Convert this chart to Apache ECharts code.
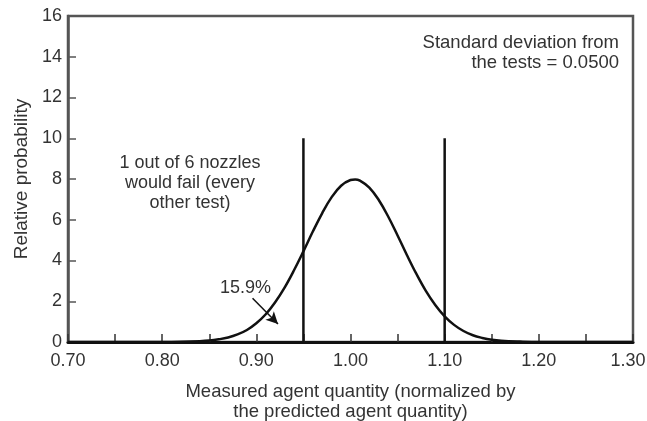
<!DOCTYPE html>
<html>
<head>
<meta charset="utf-8">
<script src="https://cdn.jsdelivr.net/npm/echarts@6/dist/echarts.min.js"></script>
<style>
  html, body { margin: 0; padding: 0; background: #fff; }
  #chart { width: 647px; height: 421px; }
</style>
</head>
<body>
<div id="chart"></div>
<script>
// Measured agent quantity (normalized) and relative probability of the fitted distribution
const quantity = [0.70, 0.75, 0.80, 0.82, 0.84, 0.85, 0.86, 0.87, 0.88, 0.89, 0.90, 0.91, 0.92, 0.93, 0.94, 0.95,
                  0.96, 0.97, 0.98, 0.99, 1.00, 1.005, 1.01, 1.02, 1.03, 1.04, 1.05, 1.06, 1.07, 1.08, 1.09, 1.10,
                  1.11, 1.12, 1.13, 1.14, 1.15, 1.16, 1.18, 1.20, 1.25, 1.30];
const probability = [0.00, 0.00, 0.00, 0.01, 0.04, 0.07, 0.13, 0.22, 0.37, 0.59, 0.92, 1.36, 1.95, 2.67, 3.52, 4.45,
                     5.42, 6.33, 7.11, 7.67, 7.95, 7.98, 7.92, 7.58, 6.97, 6.16, 5.23, 4.26, 3.34, 2.51, 1.82, 1.26,
                     0.84, 0.54, 0.33, 0.20, 0.11, 0.06, 0.02, 0.00, 0.00, 0.00];

// Acceptance limits drawn as vertical lines
const limitX = [0.95, 1.10];
const limitTop = 10;

// Arrow pointing at the tail area
const arrowFrom = [0.896, 2.15];
const arrowTo = [0.923, 0.88];

const xTicks = { min: 0.70, max: 1.30, step: 0.05 };
const yTicks = { min: 0, max: 16, step: 2 };

const font = '"Liberation Sans", Arial, Helvetica, sans-serif';
const chart = echarts.init(document.getElementById('chart'), null, { renderer: 'canvas' });

const curve = quantity.map((q, i) => [q, probability[i]]);

const limitSeries = limitX.map((x, i) => ({
  name: 'limit' + i,
  type: 'line',
  data: [[x, 0], [x, limitTop]],
  symbol: 'none',
  silent: true,
  lineStyle: { color: '#111', width: 2.5 },
  z: 3
}));

// Labels every 0.10; the last one is nudged left so it stays on the canvas
function xLabel(v) {
  const h = Math.round(v * 100);
  if (h % 10 !== 0) return '';
  return h === Math.round(xTicks.max * 100) ? '{last|' + v.toFixed(2) + '}' : v.toFixed(2);
}

chart.setOption({
  animation: false,
  backgroundColor: '#fff',
  grid: {
    left: 68, right: 14, top: 16, bottom: 79,
    containLabel: false, outerBoundsMode: 'none',
    show: true, borderColor: '#555', borderWidth: 2.5, backgroundColor: 'transparent'
  },
  xAxis: {
    type: 'value',
    min: xTicks.min, max: xTicks.max, interval: xTicks.step,
    name: 'Measured agent quantity (normalized by\nthe predicted agent quantity)',
    nameLocation: 'middle', nameGap: 40,
    nameTextStyle: { fontFamily: font, fontSize: 18.5, color: '#333', lineHeight: 20 },
    axisLine: { show: true, lineStyle: { color: '#111', width: 3 } },
    axisTick: { show: true, inside: true, length: 8, lineStyle: { color: '#333', width: 1.5 } },
    axisLabel: {
      fontFamily: font, fontSize: 18, color: '#333', margin: 10,
      formatter: xLabel,
      rich: { last: { fontFamily: font, fontSize: 18, color: '#333', padding: [0, 10, 0, 0] } }
    },
    splitLine: { show: false }
  },
  yAxis: {
    type: 'value',
    min: yTicks.min, max: yTicks.max, interval: yTicks.step,
    name: 'Relative probability',
    nameLocation: 'middle', nameGap: 37,
    nameTextStyle: { fontFamily: font, fontSize: 19, color: '#333' },
    axisLine: { show: true, lineStyle: { color: '#555', width: 2.5 } },
    axisTick: { show: true, inside: true, length: 8, lineStyle: { color: '#555', width: 1.5 } },
    axisLabel: { fontFamily: font, fontSize: 18, color: '#333', margin: 6 },
    splitLine: { show: false }
  },
  series: [
    {
      name: 'distribution',
      type: 'line',
      data: curve,
      smooth: 0.4,
      symbol: 'none',
      silent: true,
      lineStyle: { color: '#111', width: 2.5 },
      z: 4,
      markLine: {
        silent: true,
        symbol: ['none', 'arrow'],
        symbolSize: [9, 12],
        label: { show: false },
        lineStyle: { color: '#111', width: 1.5, type: 'solid' },
        data: [[{ coord: arrowFrom }, { coord: arrowTo }]]
      }
    },
    ...limitSeries
  ],
  graphic: [
    {
      type: 'text', x: 619, y: 33,
      style: {
        text: 'Standard deviation from\nthe tests = 0.0500',
        font: '18.5px ' + font, fill: '#333', align: 'right', verticalAlign: 'top', lineHeight: 20
      }
    },
    {
      type: 'text', x: 190, y: 153,
      style: {
        text: '1 out of 6 nozzles\nwould fail (every\nother test)',
        font: '18px ' + font, fill: '#333', align: 'center', verticalAlign: 'top', lineHeight: 20
      }
    },
    {
      type: 'text', x: 220, y: 278,
      style: { text: '15.9%', font: '18px ' + font, fill: '#333', verticalAlign: 'top', lineHeight: 20 }
    }
  ]
});
</script>
</body>
</html>
